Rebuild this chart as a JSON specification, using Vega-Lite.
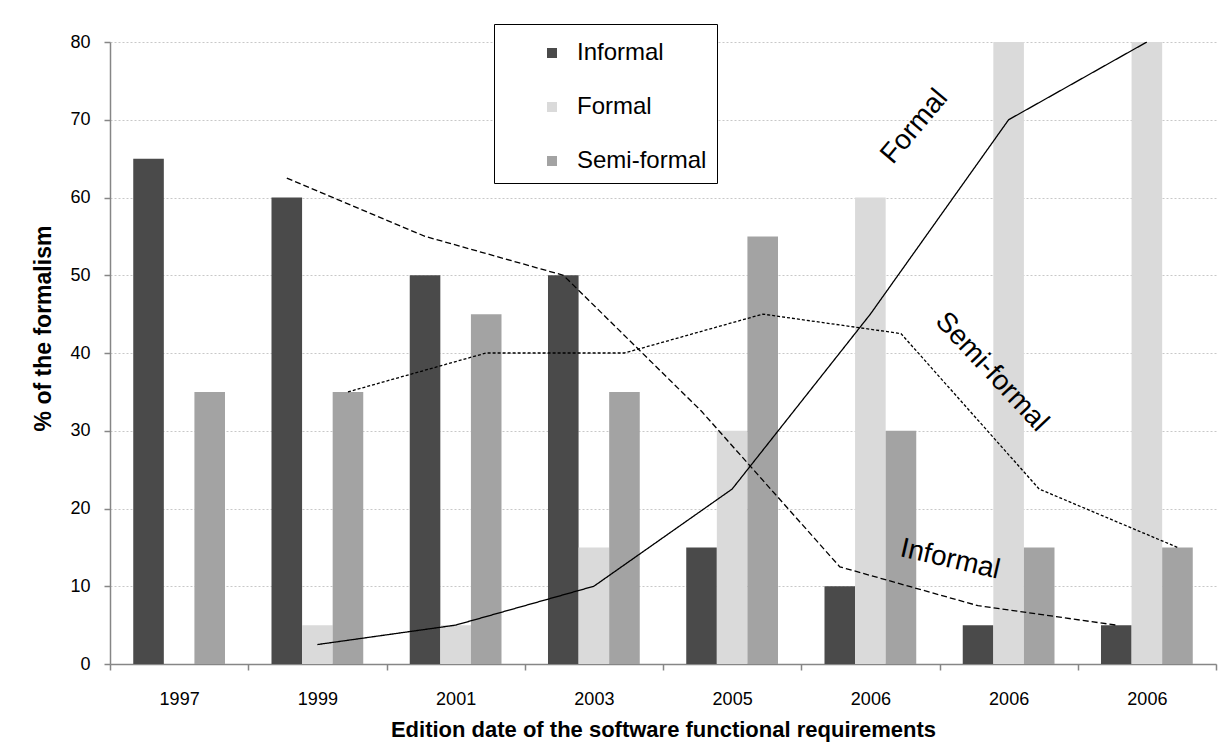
{
  "$schema": "https://vega.github.io/schema/vega-lite/v6.json",
  "width": 1106,
  "height": 622,
  "autosize": {"type": "none"},
  "padding": {"left": 110, "top": 42, "right": 10, "bottom": 78},
  "background": "white",
  "config": {
    "font": "Liberation Sans",
    "view": {"stroke": null}
  },
  "datasets": {
    "bars": [
      {"slot": "1997", "series": "Informal", "value": 65},
      {"slot": "1997", "series": "Formal", "value": 0},
      {"slot": "1997", "series": "Semi-formal", "value": 35},
      {"slot": "1999", "series": "Informal", "value": 60},
      {"slot": "1999", "series": "Formal", "value": 5},
      {"slot": "1999", "series": "Semi-formal", "value": 35},
      {"slot": "2001", "series": "Informal", "value": 50},
      {"slot": "2001", "series": "Formal", "value": 5},
      {"slot": "2001", "series": "Semi-formal", "value": 45},
      {"slot": "2003", "series": "Informal", "value": 50},
      {"slot": "2003", "series": "Formal", "value": 15},
      {"slot": "2003", "series": "Semi-formal", "value": 35},
      {"slot": "2005", "series": "Informal", "value": 15},
      {"slot": "2005", "series": "Formal", "value": 30},
      {"slot": "2005", "series": "Semi-formal", "value": 55},
      {"slot": "2006-1", "series": "Informal", "value": 10},
      {"slot": "2006-1", "series": "Formal", "value": 60},
      {"slot": "2006-1", "series": "Semi-formal", "value": 30},
      {"slot": "2006-2", "series": "Informal", "value": 5},
      {"slot": "2006-2", "series": "Formal", "value": 80},
      {"slot": "2006-2", "series": "Semi-formal", "value": 15},
      {"slot": "2006-3", "series": "Informal", "value": 5},
      {"slot": "2006-3", "series": "Formal", "value": 80},
      {"slot": "2006-3", "series": "Semi-formal", "value": 15}
    ],
    "trend": [
      {"slot": "1999", "series": "Informal", "value": 62.5},
      {"slot": "2001", "series": "Informal", "value": 55},
      {"slot": "2003", "series": "Informal", "value": 50},
      {"slot": "2005", "series": "Informal", "value": 32.5},
      {"slot": "2006-1", "series": "Informal", "value": 12.5},
      {"slot": "2006-2", "series": "Informal", "value": 7.5},
      {"slot": "2006-3", "series": "Informal", "value": 5},
      {"slot": "1999", "series": "Formal", "value": 2.5},
      {"slot": "2001", "series": "Formal", "value": 5},
      {"slot": "2003", "series": "Formal", "value": 10},
      {"slot": "2005", "series": "Formal", "value": 22.5},
      {"slot": "2006-1", "series": "Formal", "value": 45},
      {"slot": "2006-2", "series": "Formal", "value": 70},
      {"slot": "2006-3", "series": "Formal", "value": 80},
      {"slot": "1999", "series": "Semi-formal", "value": 35},
      {"slot": "2001", "series": "Semi-formal", "value": 40},
      {"slot": "2003", "series": "Semi-formal", "value": 40},
      {"slot": "2005", "series": "Semi-formal", "value": 45},
      {"slot": "2006-1", "series": "Semi-formal", "value": 42.5},
      {"slot": "2006-2", "series": "Semi-formal", "value": 22.5},
      {"slot": "2006-3", "series": "Semi-formal", "value": 15}
    ],
    "labelFormal": [{"slot": "2006-1", "value": 62.3, "label": "Formal"}],
    "labelSemi": [{"slot": "2006-2", "value": 35.2, "label": "Semi-formal"}],
    "labelInformal": [{"slot": "2006-2", "value": 11.7, "label": "Informal"}]
  },
  "layer": [
    {
      "data": {"name": "bars"},
      "mark": {"type": "bar"},
      "encoding": {
        "x": {
          "field": "slot",
          "type": "nominal",
          "scale": {
            "domain": ["1997", "1999", "2001", "2003", "2005", "2006-1", "2006-2", "2006-3"],
            "paddingInner": 0,
            "paddingOuter": 0
          },
          "axis": {
            "title": "Edition date of the software functional requirements",
            "titleFont": "Liberation Sans",
            "titleFontSize": 22,
            "titleFontWeight": "bold",
            "titleColor": "black",
            "titlePadding": 11,
            "labelExpr": "substring(datum.label, 0, 4)",
            "labelAngle": 0,
            "labelFont": "Liberation Sans",
            "labelFontSize": 18,
            "labelColor": "black",
            "labelPadding": 20,
            "tickBand": "extent",
            "tickSize": 6,
            "tickColor": "#868686",
            "tickWidth": 1.5,
            "domainColor": "#868686",
            "domainWidth": 1.5,
            "grid": false
          }
        },
        "xOffset": {
          "field": "series",
          "type": "nominal",
          "scale": {
            "domain": ["Informal", "Formal", "Semi-formal"],
            "paddingInner": 0,
            "paddingOuter": 0.76
          }
        },
        "y": {
          "field": "value",
          "type": "quantitative",
          "scale": {"domain": [0, 80], "nice": false},
          "axis": {
            "title": "% of the formalism",
            "titleFont": "Liberation Sans",
            "titleFontSize": 23,
            "titleFontWeight": "bold",
            "titleColor": "black",
            "titleX": -67,
            "titleY": 286,
            "titleAlign": "center",
            "titleBaseline": "middle",
            "titleAngle": -90,
            "values": [0, 10, 20, 30, 40, 50, 60, 70, 80],
            "labelFont": "Liberation Sans",
            "labelFontSize": 18,
            "labelColor": "black",
            "labelPadding": 14,
            "tickSize": 6,
            "tickColor": "#868686",
            "tickWidth": 1.5,
            "domainColor": "#868686",
            "domainWidth": 1.5,
            "grid": true,
            "gridColor": "#c8c8c8",
            "gridDash": [2, 2],
            "gridWidth": 1
          }
        },
        "color": {
          "field": "series",
          "type": "nominal",
          "scale": {
            "domain": ["Informal", "Formal", "Semi-formal"],
            "range": ["#4a4a4a", "#dadada", "#a3a3a3"]
          },
          "legend": {
            "title": "\u00a0",
            "titleFontSize": 2,
            "titlePadding": 5,
            "orient": "none",
            "legendX": 384,
            "legendY": -18,
            "direction": "vertical",
            "padding": 10,
            "strokeColor": "black",
            "fillColor": "white",
            "symbolType": "square",
            "symbolSize": 100,
            "symbolStrokeWidth": 0,
            "symbolOffset": 36,
            "labelOffset": 13,
            "labelFont": "Liberation Sans",
            "labelFontSize": 24,
            "labelColor": "black",
            "rowPadding": 30,
            "labelExpr": "datum.label + '\u00a0\u00a0\u00a0\u00a0\u00a0\u00a0'"
          }
        }
      }
    },
    {
      "data": {"name": "trend"},
      "mark": {"type": "line", "color": "black", "strokeWidth": 1.3},
      "encoding": {
        "x": {"field": "slot", "type": "nominal"},
        "xOffset": {"field": "series", "type": "nominal"},
        "y": {"field": "value", "type": "quantitative"},
        "strokeDash": {
          "field": "series",
          "type": "nominal",
          "scale": {
            "domain": ["Informal", "Formal", "Semi-formal"],
            "range": [[6, 3], [1, 0], [3, 2]]
          },
          "legend": null
        }
      }
    },
    {
      "data": {"name": "labelFormal"},
      "mark": {"type": "text", "angle": -50, "dx": 69, "fontSize": 28, "font": "Liberation Sans", "color": "black", "align": "center", "baseline": "middle"},
      "encoding": {
        "x": {"field": "slot", "type": "nominal"},
        "y": {"field": "value", "type": "quantitative"},
        "text": {"field": "label"}
      }
    },
    {
      "data": {"name": "labelSemi"},
      "mark": {"type": "text", "angle": 47, "dx": -25, "fontSize": 28, "font": "Liberation Sans", "color": "black", "align": "center", "baseline": "middle"},
      "encoding": {
        "x": {"field": "slot", "type": "nominal"},
        "y": {"field": "value", "type": "quantitative"},
        "text": {"field": "label"}
      }
    },
    {
      "data": {"name": "labelInformal"},
      "mark": {"type": "text", "angle": 13, "dx": -60, "fontSize": 28, "font": "Liberation Sans", "color": "black", "align": "center", "baseline": "middle"},
      "encoding": {
        "x": {"field": "slot", "type": "nominal"},
        "y": {"field": "value", "type": "quantitative"},
        "text": {"field": "label"}
      }
    }
  ]
}
